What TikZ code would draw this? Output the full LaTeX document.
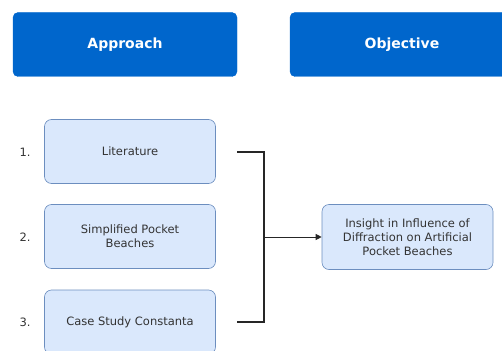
\documentclass[tikz,border=0pt]{standalone}
\usepackage{fontspec}
\setmainfont{DejaVu Sans}
\usetikzlibrary{arrows.meta}
\definecolor{headblue}{HTML}{0066CC}
\definecolor{boxfill}{HTML}{DAE8FC}
\definecolor{boxline}{HTML}{6C8EBF}
\definecolor{numtext}{HTML}{333333}
\tikzset{
  header/.style={draw=headblue, fill=headblue, rounded corners=5pt, text=white,
    font=\fontsize{14}{16}\selectfont\bfseries, inner sep=0pt},
  item/.style={draw=boxline, fill=boxfill, rounded corners=7pt, text=numtext,
    font=\fontsize{11.5}{14}\selectfont, align=center, inner sep=0pt, line width=0.6pt},
  numlabel/.style={text=numtext, font=\fontsize{11.5}{14}\selectfont, inner sep=0pt},
  bracket/.style={draw=black!85, line width=1.6pt},
  link/.style={draw=black!85, line width=0.9pt, -{Triangle[length=6pt,width=6pt]}}
}
\begin{document}
\begin{tikzpicture}[x=1pt, y=-1pt]
  \useasboundingbox (0,0) rectangle (502,350);
  % column headers
  \node[header, minimum width=224pt, minimum height=64pt] (approach) at (125,44.5) {Approach};
  \node[header, minimum width=224pt, minimum height=64pt] (objective) at (402,44.5) {Objective};
  % approach steps
  \node[item, minimum width=171pt, minimum height=64pt] (lit) at (130,151.5) {Literature};
  \node[item, minimum width=171pt, minimum height=64pt] (simp) at (130,236.5) {Simplified Pocket\\Beaches};
  \node[item, minimum width=171pt, minimum height=64pt] (case) at (130,322) {Case Study Constanta};
  \node[numlabel] (n1) at (25,152) {1.};
  \node[numlabel] (n2) at (25,237) {2.};
  \node[numlabel] (n3) at (25,322) {3.};
  % objective
  \node[item, minimum width=171pt, minimum height=65pt] (goal) at (407.5,237) {Insight in Influence of\\Diffraction on Artificial\\Pocket Beaches};
  % bracket joining the steps
  \coordinate (btop) at (237,152);
  \coordinate (bbot) at (237,322);
  \coordinate (bmid) at (264,237);
  \draw[bracket] (btop) -| (bmid) |- (bbot);
  \draw[link] (bmid) -- (goal.west);
\end{tikzpicture}
\end{document}
